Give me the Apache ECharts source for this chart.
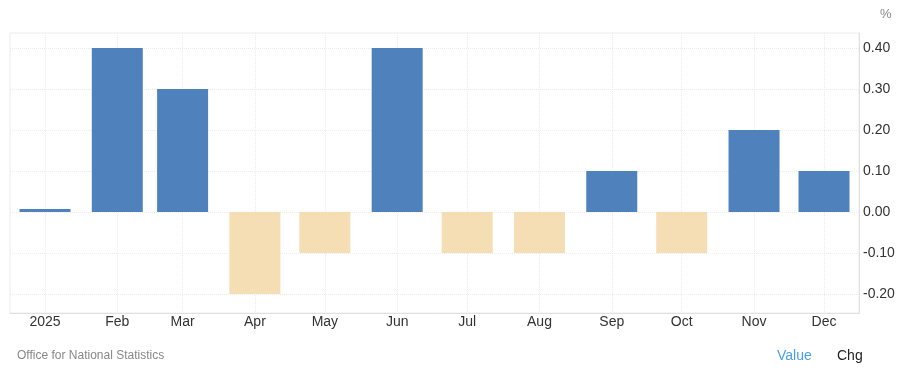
<!DOCTYPE html>
<html><head><meta charset="utf-8">
<script src="https://cdn.jsdelivr.net/npm/echarts@6/dist/echarts.min.js"></script>
<style>html,body{margin:0;padding:0;background:#fff}#c{width:900px;height:370px}</style>
</head><body><div id="c"></div>
<script>
const months = ['2025-01-01','2025-02-01','2025-03-01','2025-04-01','2025-05-01','2025-06-01','2025-07-01','2025-08-01','2025-09-01','2025-10-01','2025-11-01','2025-12-01'];
const monthLabels = ['2025','Feb','Mar','Apr','May','Jun','Jul','Aug','Sep','Oct','Nov','Dec'];
const values = [0.0, 0.4, 0.3, -0.2, -0.1, 0.4, -0.1, -0.1, 0.1, -0.1, 0.2, 0.1];
const yTicks = [-0.2, -0.1, 0, 0.1, 0.2, 0.3, 0.4];
const posColor = '#4f81bd', negColor = '#f5deb3';
// day index relative to 2025-01-01 (time scale expressed in days)
const dayOf = s => Math.round((Date.UTC(...s.split('-').map((x, i) => i === 1 ? x - 1 : +x)) - Date.UTC(2025, 0, 1)) / 86400000);
const monthDays = months.map(dayOf);
const labelMap = {};
monthDays.forEach((d, i) => labelMap[d] = monthLabels[i]);
const chart = echarts.init(document.getElementById('c'));
const FF = 'Liberation Sans, Arial, sans-serif';
chart.setOption({
  animation: false,
  grid: {left: 10, right: 41, top: 33, bottom: 57, show: true, borderColor: '#ececec', borderWidth: 1},
  xAxis: {
    type: 'value', min: dayOf('2024-12-17'), max: dayOf('2025-12-16'),
    axisLine: {show: true, onZero: false, lineStyle: {color: '#e0e0e0'}},
    axisTick: {show: false, customValues: monthDays},
    splitLine: {show: true, lineStyle: {color: '#ececec', type: 'dotted'}},
    axisLabel: {customValues: monthDays, color: '#333', fontSize: 14, margin: 2, fontFamily: FF,
      formatter: v => labelMap[v] !== undefined ? labelMap[v] : ''}
  },
  yAxis: {
    type: 'value', position: 'right', min: -0.2463, max: 0.4366,
    axisLine: {show: true, onZero: false, lineStyle: {color: '#e0e0e0'}},
    axisTick: {show: false, customValues: yTicks},
    splitLine: {show: true, lineStyle: {color: '#ececec', type: 'dotted'}},
    axisLabel: {customValues: yTicks, color: '#333', fontSize: 14, margin: 4,
      fontFamily: FF, formatter: v => v.toFixed(2)}
  },
  series: [{
    type: 'bar', barWidth: 51, barMinHeight: 3,
    data: values.map((v, i) => ({value: [monthDays[i], v], itemStyle: {color: v < 0 ? negColor : posColor}}))
  }],
  graphic: [
    {type: 'text', left: 880, top: 8, style: {text: '%', fill: '#888', fontSize: 13, fontFamily: FF}},
    {type: 'text', left: 17, top: 350, style: {text: 'Office for National Statistics', fill: '#888', fontSize: 12, fontFamily: FF}},
    {type: 'text', left: 777, top: 349, style: {text: 'Value', fill: '#4a9fe0', fontSize: 14, fontFamily: FF}},
    {type: 'text', left: 837, top: 349, style: {text: 'Chg', fill: '#222', fontSize: 14, fontFamily: FF}}
  ]
});
</script></body></html>
